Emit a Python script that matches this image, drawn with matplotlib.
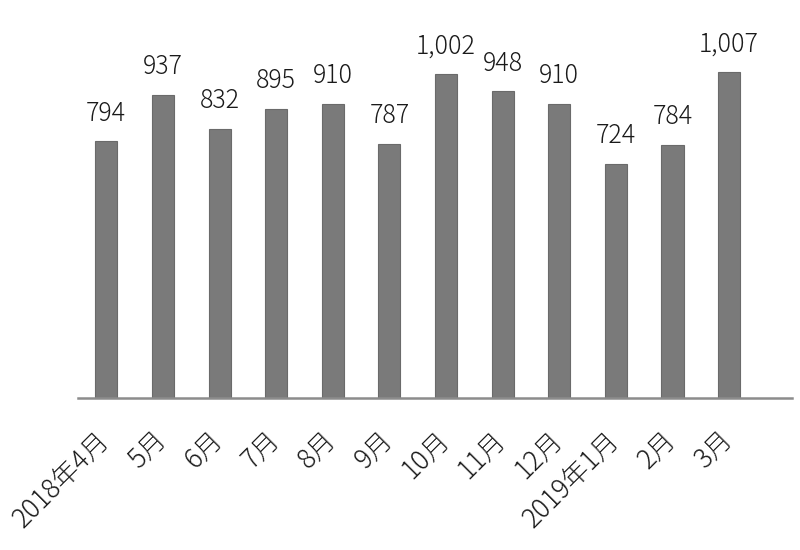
import matplotlib
matplotlib.use('Agg')
import matplotlib.pyplot as plt
import matplotlib.transforms as mtransforms

plt.rcParams['font.family'] = ['Noto Sans CJK JP', 'DejaVu Sans']

# 月別データ
months = ['2018年4月', '5月', '6月', '7月', '8月', '9月', '10月', '11月', '12月', '2019年1月', '2月', '3月']
values = [794, 937, 832, 895, 910, 787, 1002, 948, 910, 724, 784, 1007]

fig = plt.figure(figsize=(8, 5.5), dpi=100)
ax = fig.add_axes([0.0975, 0.2764, 0.8925, 0.7054])

x = list(range(len(months)))
ax.bar(x, values, width=0.39, color='#7a7a7a', edgecolor='#6a6a6a', linewidth=0.8, zorder=2)

# 値ラベル
for xi, v in zip(x, values):
    ax.annotate(f'{v:,}', (xi, v), xytext=(0, 14.8), textcoords='offset points',
                ha='center', va='baseline', fontsize=18, fontweight='light', color='#1a1a1a')

ax.set_xlim(-0.5, 12.11)
ax.set_ylim(0, 1200)

for s in ['top', 'right', 'left']:
    ax.spines[s].set_visible(False)
ax.spines['bottom'].set_color('#8c8c8c')
ax.spines['bottom'].set_linewidth(1.8)

ax.set_yticks([])
ax.set_xticks(x)
ax.set_xticklabels(months, rotation=45, ha='right', va='center', rotation_mode='anchor',
                   fontsize=19, fontweight='light', color='#1a1a1a')
ax.tick_params(axis='x', length=0, pad=27)

# ラベルを少し左へずらす
offset = mtransforms.ScaledTranslation(-1 / 72, 0, fig.dpi_scale_trans)
for lbl in ax.get_xticklabels():
    lbl.set_transform(lbl.get_transform() + offset)

plt.savefig('out.png', dpi=100)
plt.close()
